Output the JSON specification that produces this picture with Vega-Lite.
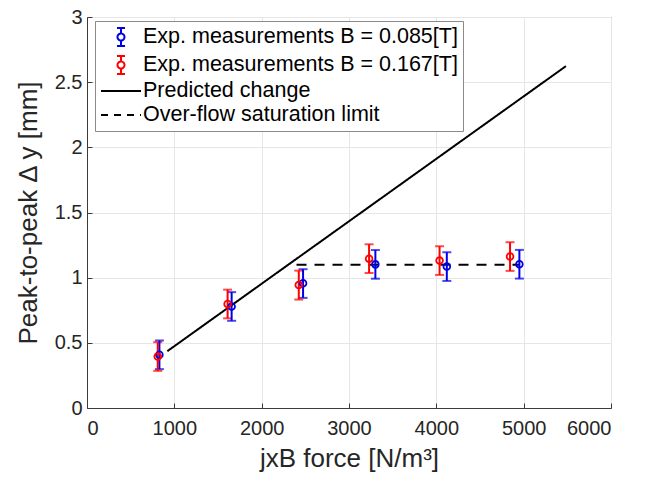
{
  "$schema": "https://vega.github.io/schema/vega-lite/v6.json",
  "width": 524,
  "height": 391,
  "autosize": {"type": "none"},
  "padding": {"left": 87, "top": 17, "right": 43, "bottom": 80},
  "background": "white",
  "config": {
    "view": {"stroke": "#3a3a3a", "strokeWidth": 1},
    "font": "Liberation Sans",
    "axis": {
      "labelFont": "Liberation Sans",
      "titleFont": "Liberation Sans",
      "labelFontSize": 20,
      "titleFontSize": 26,
      "titleFontWeight": "normal",
      "labelColor": "#262626",
      "titleColor": "#262626",
      "domainColor": "#3a3a3a",
      "tickColor": "#3a3a3a",
      "gridColor": "#e6e6e6",
      "gridWidth": 1,
      "tickSize": -5
    }
  },
  "datasets": {
    "pts": [
      {"series": "Exp. measurements B = 0.085[T]", "force": 829, "dy": 0.408, "lo": 0.298, "hi": 0.518},
      {"series": "Exp. measurements B = 0.085[T]", "force": 1656, "dy": 0.779, "lo": 0.669, "hi": 0.889},
      {"series": "Exp. measurements B = 0.085[T]", "force": 2474, "dy": 0.957, "lo": 0.845, "hi": 1.065},
      {"series": "Exp. measurements B = 0.085[T]", "force": 3302, "dy": 1.102, "lo": 0.992, "hi": 1.212},
      {"series": "Exp. measurements B = 0.085[T]", "force": 4120, "dy": 1.085, "lo": 0.975, "hi": 1.195},
      {"series": "Exp. measurements B = 0.085[T]", "force": 4951, "dy": 1.103, "lo": 0.993, "hi": 1.213},
      {"series": "Exp. measurements B = 0.167[T]", "force": 810, "dy": 0.395, "lo": 0.285, "hi": 0.505},
      {"series": "Exp. measurements B = 0.167[T]", "force": 1610, "dy": 0.798, "lo": 0.688, "hi": 0.908},
      {"series": "Exp. measurements B = 0.167[T]", "force": 2425, "dy": 0.944, "lo": 0.832, "hi": 1.054},
      {"series": "Exp. measurements B = 0.167[T]", "force": 3230, "dy": 1.146, "lo": 1.036, "hi": 1.256},
      {"series": "Exp. measurements B = 0.167[T]", "force": 4037, "dy": 1.131, "lo": 1.021, "hi": 1.241},
      {"series": "Exp. measurements B = 0.167[T]", "force": 4844, "dy": 1.162, "lo": 1.052, "hi": 1.272}
    ],
    "lines": [
      {"series": "Predicted change", "force": 920, "dy": 0.436},
      {"series": "Predicted change", "force": 5484, "dy": 2.623},
      {"series": "Over-flow saturation limit", "force": 2399, "dy": 1.1},
      {"series": "Over-flow saturation limit", "force": 4950, "dy": 1.1}
    ]
  },
  "layer": [
    {
      "data": {"name": "lines"},
      "mark": {"type": "line", "strokeWidth": 2},
      "encoding": {
        "x": {
          "field": "force", "type": "quantitative",
          "scale": {"domain": [0, 6000], "nice": false},
          "title": "jxB force [N/m³]",
          "axis": {"values": [0, 1000, 2000, 3000, 4000, 5000, 6000], "format": "d", "labelPadding": 15, "titlePadding": 7, "grid": true}
        },
        "y": {
          "field": "dy", "type": "quantitative",
          "scale": {"domain": [0, 3], "nice": false},
          "title": "Peak-to-peak Δ y [mm]",
          "axis": {"values": [0, 0.5, 1, 1.5, 2, 2.5, 3], "format": "~g", "labelPadding": 10, "titlePadding": 13, "grid": true}
        },
        "detail": {"field": "series"},
        "color": {"field": "series", "type": "nominal",
          "scale": {"domain": ["Exp. measurements B = 0.085[T]", "Exp. measurements B = 0.167[T]", "Predicted change", "Over-flow saturation limit"], "range": ["#0000e6", "#ff0000", "#000000", "#000000"]},
          "legend": {
            "title": null,
            "orient": "none",
            "legendX": 8,
            "legendY": 4,
            "values": ["Exp. measurements B = 0.085[T]", "Exp. measurements B = 0.167[T]", "Predicted change", "Over-flow saturation limit"],
            "labelFont": "Liberation Sans",
            "labelFontSize": 21.5,
            "labelColor": "#000000",
            "labelOffset": 11,
            "labelLimit": 400,
            "symbolSize": 400,
            "symbolOffset": 10,
            "symbolStrokeWidth": 2,
            "symbolFillColor": "transparent",
            "rowPadding": 2,
            "padding": 5,
            "strokeColor": "#8a8a8a",
            "fillColor": "white",
            "encode": {
              "symbols": {
                "update": {
                  "shape": {"signal": "(datum.value === 'Predicted change' || datum.value === 'Over-flow saturation limit') ? 'M-2,0H2' : 'M-0.4,-0.9H0.4M0,-0.9V-0.35M0,0.35V0.9M-0.4,0.9H0.4M0.35,0A0.35,0.35 0 1,1 -0.35,0A0.35,0.35 0 1,1 0.35,0'"},
                  "strokeDash": {"signal": "datum.value === 'Over-flow saturation limit' ? [7, 6] : [1, 0]"},
                  "fill": {"value": "transparent"},
                  "fillOpacity": {"value": 0},
                  "strokeWidth": {"value": 2}
                }
              }
            }
          }
        },
        "strokeDash": {"field": "series", "type": "nominal", "legend": null,
          "scale": {"domain": ["Predicted change", "Over-flow saturation limit"], "range": [[1, 0], [10, 8]]}}
      }
    },
    {
      "data": {"name": "pts"},
      "mark": {"type": "errorbar", "thickness": 2, "ticks": {"size": 9, "thickness": 2}},
      "encoding": {
        "x": {"field": "force", "type": "quantitative", "title": "jxB force [N/m³]"},
        "y": {"field": "lo", "type": "quantitative", "title": "Peak-to-peak Δ y [mm]"},
        "y2": {"field": "hi"},
        "color": {"field": "series", "type": "nominal"}
      }
    },
    {
      "data": {"name": "pts"},
      "mark": {"type": "point", "shape": "circle", "filled": false, "size": 45, "strokeWidth": 1.8, "opacity": 1},
      "encoding": {
        "x": {"field": "force", "type": "quantitative", "title": "jxB force [N/m³]"},
        "y": {"field": "dy", "type": "quantitative", "title": "Peak-to-peak Δ y [mm]"},
        "color": {"field": "series", "type": "nominal"}
      }
    }
  ]
}
